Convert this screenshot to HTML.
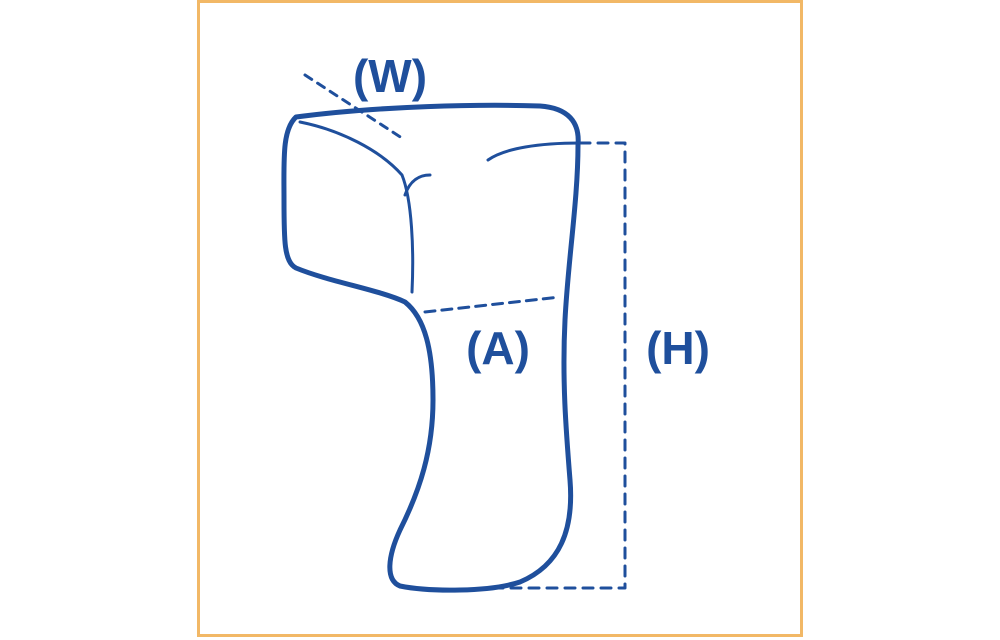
<!DOCTYPE html>
<html><head><meta charset="utf-8"><style>
html,body{margin:0;padding:0;background:#fff;}
svg{display:block;}
text{font-family:"Liberation Sans",sans-serif;font-weight:bold;fill:#1f4f9c;}
</style></head><body>
<svg width="1000" height="640" viewBox="0 0 1000 640">
<rect x="198.5" y="1.5" width="603" height="634" fill="#fff" stroke="#f2b866" stroke-width="3"/>
<g fill="none" stroke="#1f4f9c" stroke-linecap="round" stroke-linejoin="round">
<path stroke-width="5" d="M296,117 C380,106 480,104 540,106 C568,108 580,122 578,145 C578,200 568,260 565,320 C562,380 566,430 570,480 C574,530 560,565 520,582 C490,592 430,592 400,586 C385,580 388,556 400,530 C420,490 433,450 433,400 C433,350 425,318 405,302 C380,290 330,282 296,268 C284,262 284,240 284,200 C284,160 282,130 296,117 Z"/>
<path stroke-width="3" d="M300,122 C340,130 380,150 402,175 C412,200 414,250 412,292"/>
<path stroke-width="3" d="M405,195 C410,180 420,175 430,175"/>
<path stroke-width="3" d="M488,160 C505,148 540,143 580,143"/>
<path stroke-width="3" stroke-dasharray="8,7" d="M305,75 L405,140"/>
<path stroke-width="3" stroke-dasharray="10,7" d="M425,312 L560,297"/>
<path stroke-width="3" stroke-dasharray="10,8" d="M580,143 L625,143 L625,588 L490,588"/>
</g>
<text x="390" y="92" font-size="46" text-anchor="middle">(W)</text>
<text x="498" y="364" font-size="46" text-anchor="middle">(A)</text>
<text x="678" y="364" font-size="46" text-anchor="middle">(H)</text>
</svg>
</body></html>
